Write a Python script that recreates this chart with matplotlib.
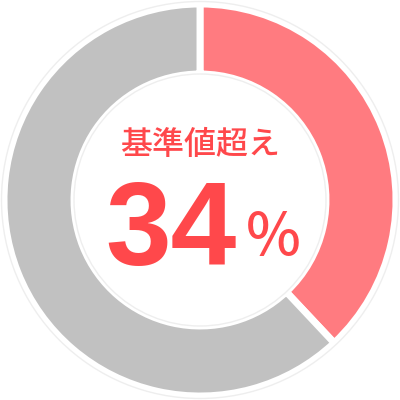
import matplotlib
matplotlib.use("Agg")
import matplotlib.pyplot as plt
from matplotlib.patches import Circle

# share shown by the donut and the label
labels = ["基準値超え", "その他"]
values = [38, 62]
colors = ["#ff7b80", "#c1c1c1"]
title = "基準値超え"
value_text = "34"
unit_text = "%"

fig = plt.figure(figsize=(4, 4), dpi=100)
ax = fig.add_axes([0, 0, 1, 1])

ax.pie(values, colors=colors, radius=196, startangle=90, counterclock=False,
       wedgeprops=dict(width=70, edgecolor="white", linewidth=5))

# faint outline rings
ax.add_patch(Circle((0, 0), 198.5, fill=False, edgecolor="#eeeeee", linewidth=1))
ax.add_patch(Circle((0, 0), 126, fill=False, edgecolor="#eeeeee", linewidth=1))

red = "#ff484b"
ax.text(0, 55, title, ha="center", va="center", fontsize=23, color=red,
        fontweight="medium", family=["Noto Sans CJK JP", "DejaVu Sans"])
ax.text(-29, -34, value_text, ha="center", va="center", fontsize=85,
        fontweight="bold", color=red, family="Liberation Sans")
ax.text(73, -38, unit_text, ha="center", va="center", fontsize=42,
        fontweight="medium", color=red, family=["Noto Sans CJK JP", "DejaVu Sans"])

ax.set_xlim(-200, 200)
ax.set_ylim(-200, 200)
ax.set_aspect("equal")
ax.axis("off")

fig.savefig("out.png", dpi=100, facecolor="white")
